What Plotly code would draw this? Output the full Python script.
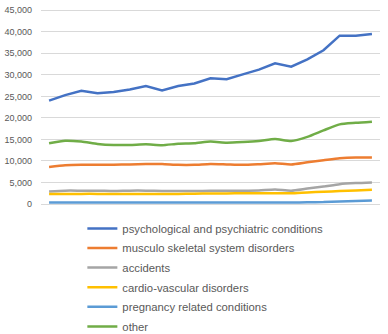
import plotly.graph_objects as go

years = [2000, 2001, 2002, 2003, 2004, 2005, 2006, 2007, 2008, 2009, 2010,
         2011, 2012, 2013, 2014, 2015, 2016, 2017, 2018, 2019, 2020]

psych = [24000, 25300, 26300, 25700, 26000, 26600, 27400, 26400, 27400, 28000, 29200,
         29000, 30100, 31200, 32700, 31900, 33600, 35700, 39100, 39100, 39500]
musculo = [8600, 9000, 9100, 9100, 9100, 9200, 9300, 9300, 9100, 9100, 9300,
           9200, 9100, 9250, 9450, 9200, 9700, 10150, 10600, 10800, 10800]
accidents = [2900, 3100, 3100, 3100, 3000, 3100, 3100, 3000, 3000, 3000, 3050,
             3100, 3100, 3150, 3350, 3100, 3600, 4050, 4600, 4850, 5000]
cardio = [2300, 2300, 2350, 2350, 2350, 2350, 2350, 2350, 2350, 2400, 2450,
          2450, 2500, 2500, 2500, 2500, 2700, 2850, 3000, 3150, 3300]
pregnancy = [350, 350, 350, 350, 350, 350, 350, 350, 350, 350, 350,
             350, 350, 350, 350, 350, 400, 450, 600, 700, 800]
other = [14100, 14700, 14500, 13950, 13700, 13700, 13850, 13650, 14000, 14100, 14500,
         14250, 14400, 14650, 15100, 14650, 15600, 17100, 18500, 18850, 19100]
y_ticks = [0, 5000, 10000, 15000, 20000, 25000, 30000, 35000, 40000, 45000]

series = [
    ("psychological and psychiatric conditions", psych, "#4472C4", "linear"),
    ("musculo skeletal system disorders", musculo, "#ED7D31", "spline"),
    ("accidents", accidents, "#A5A5A5", "spline"),
    ("cardio-vascular disorders", cardio, "#FFC000", "spline"),
    ("pregnancy related conditions", pregnancy, "#5B9BD5", "spline"),
    ("other", other, "#70AD47", "spline"),
]

fig = go.Figure()
for i, (name, vals, color, shape) in enumerate(series):
    line = dict(color=color, width=2.5, shape=shape)
    if shape == "spline":
        line["smoothing"] = 0.6
    fig.add_trace(go.Scatter(x=list(range(len(years))), y=vals, name=name,
                             mode="lines", line=line, legendgroup=f"g{i}"))

fig.update_layout(
    width=388, height=334,
    margin=dict(l=41, r=8, t=6, b=130, autoexpand=False),
    paper_bgcolor="white", plot_bgcolor="white",
    font=dict(family="Liberation Sans, Arial, sans-serif", size=9, color="#595959"),
    showlegend=True,
    legend=dict(orientation="v", x=0.122, xanchor="left", y=-0.05, yanchor="top",
                font=dict(size=11.3, color="#595959"), itemwidth=30,
                tracegroupgap=0.6, bgcolor="rgba(0,0,0,0)"),
)
fig.update_xaxes(range=[-0.5, 20.5], showticklabels=False, showgrid=False,
                 zeroline=False, showline=False, ticks="")
fig.update_yaxes(range=[0, 45990], tickvals=y_ticks,
                 tickformat=",", showgrid=True,
                 gridcolor="#D9D9D9", gridwidth=1, zeroline=True, zerolinecolor="#D9D9D9",
                 zerolinewidth=1, showline=False, ticks="", ticklabelstandoff=8,
                 tickfont=dict(size=9, color="#595959"))

fig.write_html("out.html")
